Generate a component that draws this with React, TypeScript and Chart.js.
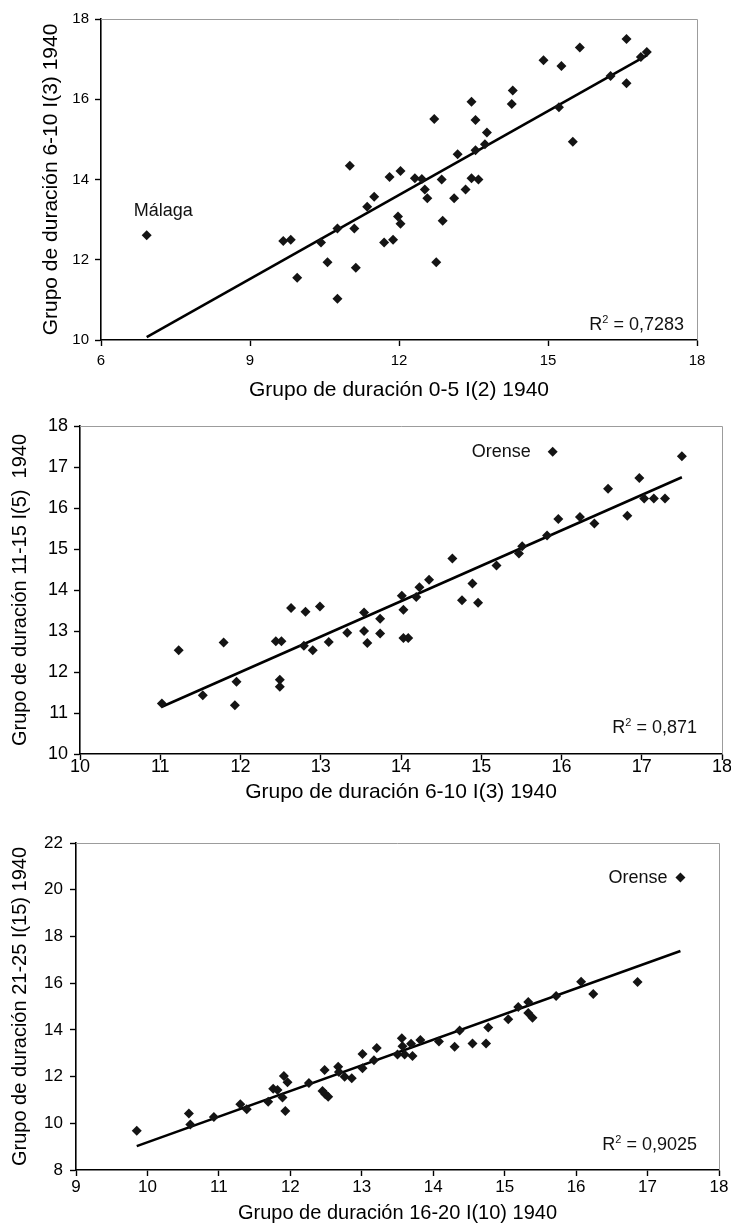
import React, { useEffect, useRef } from 'react';
import { Chart, registerables } from 'chart.js';

Chart.register(...registerables);

const FONT = "'Liberation Sans', Arial, Helvetica, sans-serif";

// ---------- Panel 1: 0-5 vs 6-10 ----------
const p1X = [9.67, 9.82, 9.95, 10.43, 10.56, 10.76, 10.76, 11.01, 11.1, 11.13, 11.36, 11.5, 11.7, 11.81, 11.88, 11.98, 12.03, 12.03, 12.32, 12.46, 12.52, 12.57, 12.71, 12.75, 12.86, 12.88, 13.11, 13.18, 13.34, 13.46, 13.46, 13.54, 13.54, 13.6, 13.73, 13.77, 14.27, 14.29, 14.91, 15.22, 15.27, 15.5, 15.64, 16.26, 16.58, 16.58, 16.87, 16.99];
const p1Y = [12.47, 12.5, 11.55, 12.43, 11.94, 12.78, 11.03, 14.34, 12.78, 11.8, 13.32, 13.57, 12.43, 14.06, 12.5, 13.08, 12.9, 14.21, 14.03, 14.01, 13.75, 13.53, 15.51, 11.94, 14.0, 12.97, 13.53, 14.63, 13.75, 15.94, 14.03, 15.48, 14.73, 14.0, 14.88, 15.17, 15.88, 16.22, 16.97, 15.8, 16.83, 14.94, 17.29, 16.58, 17.5, 16.4, 17.05, 17.18];
const p1Outlier = { label: 'Málaga', x: 6.92, y: 12.61 };
const p1R2 = '0,7283';
const p1XTitle = 'Grupo de duración 0-5 I(2) 1940';
const p1YTitle = 'Grupo de duración 6-10 I(3) 1940';

// ---------- Panel 2: 6-10 vs 11-15 ----------
const p2X = [11.02, 11.23, 11.53, 11.79, 11.93, 11.95, 12.44, 12.51, 12.49, 12.49, 12.63, 12.79, 12.81, 12.9, 12.99, 13.1, 13.33, 13.54, 13.54, 13.58, 13.74, 13.74, 14.01, 14.03, 14.03, 14.09, 14.19, 14.23, 14.35, 14.64, 14.76, 14.89, 14.96, 15.19, 15.47, 15.51, 15.82, 15.96, 16.23, 16.41, 16.58, 16.82, 16.97, 17.03, 17.15, 17.29, 17.5];
const p2Y = [11.23, 12.53, 11.43, 12.72, 11.19, 11.76, 12.75, 12.75, 11.81, 11.64, 13.56, 12.64, 13.47, 12.53, 13.6, 12.73, 12.96, 13.45, 13.0, 12.71, 13.3, 12.94, 13.86, 13.52, 12.83, 12.83, 13.83, 14.07, 14.25, 14.77, 13.75, 14.16, 13.69, 14.6, 14.89, 15.07, 15.33, 15.73, 15.78, 15.62, 16.47, 15.81, 16.73, 16.23, 16.23, 16.23, 17.26];
const p2Outlier = { label: 'Orense', x: 15.89, y: 17.37 };
const p2R2 = '0,871';
const p2XTitle = 'Grupo de duración 6-10 I(3) 1940';
const p2YTitle = 'Grupo de duración 11-15 I(5)  1940';

// ---------- Panel 3: 16-20 vs 21-25 ----------
const p3X = [9.85, 10.58, 10.6, 10.93, 11.3, 11.39, 11.69, 11.76, 11.82, 11.89, 11.91, 11.96, 11.93, 12.26, 12.48, 12.45, 12.49, 12.53, 12.67, 12.68, 12.76, 12.86, 13.01, 13.01, 13.17, 13.21, 13.5, 13.56, 13.57, 13.6, 13.69, 13.71, 13.82, 14.08, 14.3, 14.37, 14.55, 14.74, 14.77, 15.05, 15.19, 15.33, 15.33, 15.39, 15.72, 16.07, 16.24, 16.86];
const p3Y = [9.68, 10.42, 9.95, 10.27, 10.82, 10.6, 10.92, 11.48, 11.42, 11.1, 12.02, 11.76, 10.53, 11.73, 12.28, 11.38, 11.24, 11.14, 12.42, 12.2, 11.99, 11.93, 12.97, 12.36, 12.7, 13.22, 12.95, 13.64, 13.3, 12.94, 13.4, 12.88, 13.57, 13.5, 13.28, 13.97, 13.42, 13.42, 14.1, 14.45, 14.98, 15.19, 14.72, 14.52, 15.45, 16.06, 15.53, 16.05];
const p3Outlier = { label: 'Orense', x: 17.46, y: 20.52 };
const p3R2 = '0,9025';
const p3XTitle = 'Grupo de duración 16-20 I(10) 1940';
const p3YTitle = 'Grupo de duración 21-25 I(15) 1940';

type Outlier = { label: string; x: number; y: number };

type PanelSpec = {
  top: number;
  height: number;
  xs: number[];
  ys: number[];
  outlier: Outlier;
  labelDx: number;
  labelDy: number;
  labelAlign: CanvasTextAlign;
  r2: string;
  r2Right: number;
  r2Bottom: number;
  xMin: number; xMax: number; xStep: number;
  yMin: number; yMax: number; yStep: number;
  xTitle: string; yTitle: string;
  padTop: number; padRight: number;
  yAxisWidth: number; xAxisHeight: number;
  tickSize: number; xTickPad: number; yTickPad: number;
  xTitleSize: number; yTitleSize: number;
  xTitlePad: number; yTitlePad: number;
  markerRadius: number;
};

function fitLine(xs: number[], ys: number[]) {
  const n = xs.length;
  const mx = xs.reduce((a, b) => a + b, 0) / n;
  const my = ys.reduce((a, b) => a + b, 0) / n;
  let sxy = 0, sxx = 0;
  for (let i = 0; i < n; i++) {
    sxy += (xs[i] - mx) * (ys[i] - my);
    sxx += (xs[i] - mx) * (xs[i] - mx);
  }
  const b = sxy / sxx;
  return { a: my - b * mx, b };
}

function Panel({ spec }: { spec: PanelSpec }) {
  const ref = useRef<HTMLCanvasElement>(null);
  useEffect(() => {
    if (!ref.current) return;
    const allX = [...spec.xs, spec.outlier.x];
    const allY = [...spec.ys, spec.outlier.y];
    const { a, b } = fitLine(allX, allY);
    const lx0 = Math.min(...allX);
    const lx1 = Math.max(...allX);
    const pts = allX.map((x, i) => ({ x, y: allY[i] }));

    const annot = {
      id: 'annot' + spec.top,
      beforeDatasetsDraw(chart: any) {
        const { ctx, chartArea } = chart;
        ctx.save();
        ctx.strokeStyle = '#9c9c9c';
        ctx.lineWidth = 1;
        ctx.beginPath();
        ctx.moveTo(chartArea.left, Math.round(chartArea.top) + 0.5);
        ctx.lineTo(Math.round(chartArea.right) + 0.5, Math.round(chartArea.top) + 0.5);
        ctx.lineTo(Math.round(chartArea.right) + 0.5, chartArea.bottom);
        ctx.stroke();
        ctx.restore();
      },
      afterDatasetsDraw(chart: any) {
        const { ctx, chartArea, scales } = chart;
        ctx.save();
        ctx.fillStyle = '#111';
        ctx.font = `18px ${FONT}`;
        ctx.textBaseline = 'middle';
        ctx.textAlign = spec.labelAlign;
        const px = scales.x.getPixelForValue(spec.outlier.x);
        const py = scales.y.getPixelForValue(spec.outlier.y);
        ctx.fillText(spec.outlier.label, px + spec.labelDx, py + spec.labelDy);

        // R² text
        const xEnd = chartArea.right - spec.r2Right;
        const base = chartArea.bottom - spec.r2Bottom;
        ctx.textBaseline = 'alphabetic';
        ctx.textAlign = 'left';
        const main = ' = ' + spec.r2;
        ctx.font = `18px ${FONT}`;
        const wMain = ctx.measureText(main).width;
        const wR = ctx.measureText('R').width;
        ctx.font = `11px ${FONT}`;
        const wSup = ctx.measureText('2').width;
        const x0 = xEnd - wMain - wSup - wR;
        ctx.font = `18px ${FONT}`;
        ctx.fillText('R', x0, base);
        ctx.font = `11px ${FONT}`;
        ctx.fillText('2', x0 + wR, base - 7);
        ctx.font = `18px ${FONT}`;
        ctx.fillText(main, x0 + wR + wSup, base);
        ctx.restore();
      },
    };

    const chart = new Chart(ref.current, {
      type: 'scatter',
      data: {
        datasets: [
          {
            data: pts,
            pointStyle: 'rectRot',
            pointRadius: spec.markerRadius,
            pointBorderWidth: 0,
            backgroundColor: '#141414',
            borderColor: '#141414',
            showLine: false,
          },
          {
            data: [
              { x: lx0, y: a + b * lx0 },
              { x: lx1, y: a + b * lx1 },
            ],
            showLine: true,
            borderColor: '#000',
            borderWidth: 2.6,
            pointRadius: 0,
            fill: false,
          },
        ],
      },
      options: {
        responsive: false,
        animation: false,
        events: [],
        layout: { padding: { left: 0, top: spec.padTop, right: spec.padRight, bottom: 0 } },
        plugins: { legend: { display: false }, tooltip: { enabled: false }, title: { display: false } },
        scales: {
          x: {
            type: 'linear',
            min: spec.xMin,
            max: spec.xMax,
            ticks: {
              stepSize: spec.xStep,
              color: '#000',
              padding: spec.xTickPad,
              maxRotation: 0,
              font: { family: FONT, size: spec.tickSize, lineHeight: 1 },
            },
            grid: { drawOnChartArea: false, drawTicks: true, tickLength: 6, color: '#000', tickWidth: 1.4 },
            border: { display: true, color: '#000', width: 1.6 },
            title: {
              display: true,
              text: spec.xTitle,
              color: '#000',
              font: { family: FONT, size: spec.xTitleSize },
              padding: { top: 0, bottom: spec.xTitlePad },
            },
            afterFit: (s: any) => { s.height = spec.xAxisHeight; },
          },
          y: {
            type: 'linear',
            min: spec.yMin,
            max: spec.yMax,
            ticks: {
              stepSize: spec.yStep,
              color: '#000',
              padding: spec.yTickPad,
              font: { family: FONT, size: spec.tickSize, lineHeight: 1 },
            },
            grid: { drawOnChartArea: false, drawTicks: true, tickLength: 6, color: '#000', tickWidth: 1.4 },
            border: { display: true, color: '#000', width: 1.6 },
            title: {
              display: true,
              text: spec.yTitle,
              color: '#000',
              font: { family: FONT, size: spec.yTitleSize },
              padding: { top: spec.yTitlePad, bottom: 0 },
            },
            afterFit: (s: any) => { s.width = spec.yAxisWidth; },
          },
        },
      },
      plugins: [annot],
    } as any);
    return () => chart.destroy();
  }, [spec]);

  return (
    <div style={{ position: 'absolute', left: 0, top: spec.top, width: 731, height: spec.height }}>
      <canvas ref={ref} width={731} height={spec.height} style={{ display: 'block' }} />
    </div>
  );
}

const specs: PanelSpec[] = [
  {
    top: 0, height: 405,
    xs: p1X, ys: p1Y, outlier: p1Outlier, labelDx: -13, labelDy: -24, labelAlign: 'left',
    r2: p1R2, r2Right: 13, r2Bottom: 10,
    xMin: 6, xMax: 18, xStep: 3, yMin: 10, yMax: 18, yStep: 2,
    xTitle: p1XTitle, yTitle: p1YTitle,
    padTop: 19, padRight: 34, yAxisWidth: 101, xAxisHeight: 65,
    tickSize: 15, xTickPad: 7.5, yTickPad: 6,
    xTitleSize: 21, yTitleSize: 21, xTitlePad: 2.4, yTitlePad: 38.4,
    markerRadius: 5,
  },
  {
    top: 410, height: 405,
    xs: p2X, ys: p2Y, outlier: p2Outlier, labelDx: -22, labelDy: 0, labelAlign: 'right',
    r2: p2R2, r2Right: 25, r2Bottom: 21,
    xMin: 10, xMax: 18, xStep: 1, yMin: 10, yMax: 18, yStep: 1,
    xTitle: p2XTitle, yTitle: p2YTitle,
    padTop: 16, padRight: 9, yAxisWidth: 80, xAxisHeight: 61,
    tickSize: 18, xTickPad: -2, yTickPad: 6,
    xTitleSize: 21, yTitleSize: 20, xTitlePad: 10.4, yTitlePad: 8,
    markerRadius: 5,
  },
  {
    top: 820, height: 411,
    xs: p3X, ys: p3Y, outlier: p3Outlier, labelDx: -13, labelDy: 0, labelAlign: 'right',
    r2: p3R2, r2Right: 22, r2Bottom: 20,
    xMin: 9, xMax: 18, xStep: 1, yMin: 8, yMax: 22, yStep: 2,
    xTitle: p3XTitle, yTitle: p3YTitle,
    padTop: 23, padRight: 12, yAxisWidth: 76, xAxisHeight: 61,
    tickSize: 17, xTickPad: 2.5, yTickPad: 7,
    xTitleSize: 20, yTitleSize: 20, xTitlePad: 6, yTitlePad: 8,
    markerRadius: 5,
  },
];

export default function App() {
  return (
    <div style={{ position: 'absolute', left: 0, top: 0, width: 731, height: 1231, background: '#fff', overflow: 'hidden' }}>
      {specs.map((s) => (
        <Panel key={s.top} spec={s} />
      ))}
    </div>
  );
}
